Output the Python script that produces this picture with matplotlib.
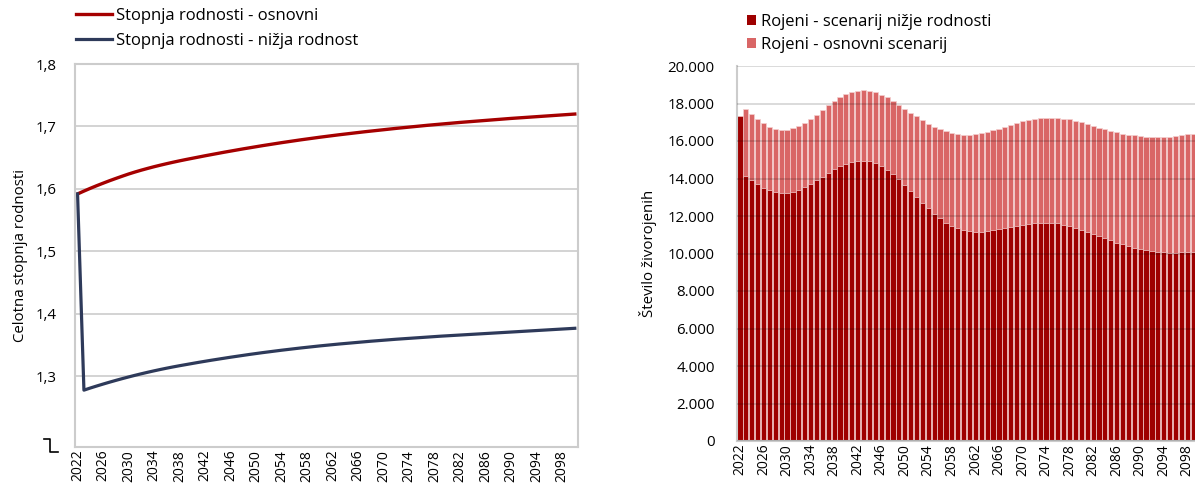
import matplotlib
matplotlib.use("Agg")
import matplotlib.pyplot as plt
from matplotlib.lines import Line2D
from matplotlib.patches import Patch
from matplotlib.ticker import FuncFormatter

plt.rcParams['font.family'] = ['Open Sans', 'DejaVu Sans']

years = list(range(2022, 2101))

# celotna stopnja rodnosti
tfr_osnovni = [
    1.5920, 1.5966, 1.6010, 1.6052, 1.6092, 1.6131, 1.6168, 1.6204, 1.6239,
    1.6271, 1.6301, 1.6329, 1.6356, 1.6381, 1.6405, 1.6428, 1.6450, 1.6471, 1.6491,
    1.6511, 1.6531, 1.6550, 1.6569, 1.6588, 1.6606, 1.6624, 1.6642, 1.6659, 1.6676,
    1.6693, 1.6709, 1.6725, 1.6741, 1.6756, 1.6771, 1.6786, 1.6800, 1.6814, 1.6828,
    1.6841, 1.6854, 1.6867, 1.6879, 1.6891, 1.6903, 1.6915, 1.6926, 1.6937, 1.6948,
    1.6959, 1.6970, 1.6980, 1.6990, 1.7000, 1.7010, 1.7020, 1.7029, 1.7038, 1.7047,
    1.7056, 1.7065, 1.7073, 1.7081, 1.7089, 1.7097, 1.7105, 1.7113, 1.7121, 1.7129,
    1.7136, 1.7143, 1.7150, 1.7157, 1.7164, 1.7171, 1.7178, 1.7185, 1.7192, 1.7199,
]
tfr_nizja = [
    1.5920,
    1.2780, 1.2814, 1.2846, 1.2877, 1.2907, 1.2936, 1.2964, 1.2991,
    1.3017, 1.3042, 1.3066, 1.3089, 1.3111, 1.3132, 1.3152, 1.3171, 1.3189, 1.3207,
    1.3225, 1.3242, 1.3259, 1.3275, 1.3291, 1.3307, 1.3322, 1.3337, 1.3352, 1.3366,
    1.3380, 1.3393, 1.3406, 1.3419, 1.3431, 1.3443, 1.3455, 1.3466, 1.3477, 1.3488,
    1.3498, 1.3508, 1.3518, 1.3527, 1.3536, 1.3545, 1.3554, 1.3563, 1.3571, 1.3579,
    1.3587, 1.3595, 1.3602, 1.3609, 1.3616, 1.3623, 1.3630, 1.3637, 1.3644, 1.3650,
    1.3656, 1.3662, 1.3668, 1.3674, 1.3680, 1.3686, 1.3692, 1.3698, 1.3704, 1.3710,
    1.3716, 1.3722, 1.3728, 1.3734, 1.3740, 1.3746, 1.3752, 1.3758, 1.3764, 1.3770,
]

# rojeni (v tisocih)
rojeni_osnovni = [
    17.35, 17.72, 17.44, 17.15, 16.94, 16.75, 16.64, 16.59, 16.59, 16.68,
    16.80, 16.96, 17.15, 17.40, 17.65, 17.90, 18.13, 18.33, 18.49, 18.60,
    18.68, 18.70, 18.67, 18.60, 18.47, 18.33, 18.13, 17.94, 17.71, 17.51,
    17.32, 17.10, 16.92, 16.76, 16.62, 16.51, 16.42, 16.37, 16.34, 16.34,
    16.35, 16.41, 16.48, 16.57, 16.66, 16.76, 16.87, 16.96, 17.05, 17.12,
    17.17, 17.23, 17.24, 17.24, 17.23, 17.19, 17.16, 17.08, 17.00, 16.91,
    16.80, 16.71, 16.62, 16.53, 16.46, 16.39, 16.34, 16.30, 16.27, 16.23,
    16.23, 16.21, 16.23, 16.23, 16.27, 16.30, 16.35, 16.39, 16.44,
]
rojeni_nizja = [
    17.35, 14.13, 13.94, 13.71, 13.51, 13.40, 13.30, 13.23, 13.24, 13.30,
    13.40, 13.56, 13.71, 13.92, 14.10, 14.29, 14.49, 14.68, 14.79, 14.90,
    14.93, 14.95, 14.92, 14.83, 14.67, 14.45, 14.22, 13.97, 13.67, 13.35,
    13.03, 12.71, 12.41, 12.12, 11.88, 11.64, 11.47, 11.36, 11.25, 11.20,
    11.15, 11.15, 11.20, 11.25, 11.31, 11.38, 11.43, 11.47, 11.52, 11.57,
    11.63, 11.63, 11.63, 11.63, 11.61, 11.54, 11.45, 11.36, 11.25, 11.16,
    11.04, 10.93, 10.83, 10.70, 10.58, 10.49, 10.40, 10.29, 10.24, 10.19,
    10.15, 10.10, 10.06, 10.04, 10.04, 10.06, 10.08, 10.08, 10.10,
]

xtick_years = list(range(2022, 2100, 4))

RED = '#a50000'
NAVY = '#2e3a5a'
DARK = '#9e0000'
LIGHT = '#d96666'
GRID = '#cccccc'
FS = 10.8
FS_LEG = 12
FS_X = 10

fig = plt.figure(figsize=(11.95, 4.83), dpi=100)

# ---- levi graf: stopnja rodnosti
ax1 = fig.add_axes([75/1195, 36/483, 503/1195, 383/483])
ax1.plot(years, tfr_osnovni, color=RED, lw=2.4, solid_joinstyle='round')
ax1.plot(years, tfr_nizja, color=NAVY, lw=2.3, solid_joinstyle='round')
ax1.set_xlim(2021.6, 2100.5)
ax1.set_ylim(1.187, 1.8)
ax1.set_yticks([1.3, 1.4, 1.5, 1.6, 1.7, 1.8])
ax1.yaxis.set_major_formatter(FuncFormatter(lambda v, p: ('%.1f' % v).replace('.', ',')))
ax1.set_xticks(xtick_years)
ax1.set_xticklabels([str(y) for y in xtick_years], rotation=90)
ax1.grid(axis='y', color=GRID, lw=1.2)
ax1.set_axisbelow(True)
for s in ax1.spines.values():
    s.set_color(GRID)
    s.set_linewidth(1.5)
ax1.tick_params(length=0, labelsize=FS, colors='black')
ax1.tick_params(axis='y', pad=13)
ax1.tick_params(axis='x', pad=2, labelsize=FS_X)
ax1.set_ylabel('Celotna stopnja rodnosti', fontsize=FS, labelpad=6)

# znak za prekinjeno os
px = lambda x, y: (x/1195, 1 - y/483)
brk = [px(44, 439), px(50, 439), px(50, 452), px(58, 452)]
fig.add_artist(Line2D([p[0] for p in brk], [p[1] for p in brk],
                      transform=fig.transFigure, color='black', lw=1.2))

leg1 = [Line2D([0], [0], color=RED, lw=2.4), Line2D([0], [0], color=NAVY, lw=2.3)]
fig.legend(leg1, ['Stopnja rodnosti - osnovni', 'Stopnja rodnosti - nižja rodnost'],
           loc='upper left', bbox_to_anchor=(76/1195, 1 - 8/483), frameon=False,
           fontsize=FS_LEG, handlelength=2.15, handletextpad=0.25, labelspacing=0.55,
           borderpad=0, borderaxespad=0)

# ---- desni graf: rojeni
ax2 = fig.add_axes([737/1195, 42/483, 465/1195, 375/483])
ax2.bar(years, [v*1000 for v in rojeni_osnovni], width=0.88, color=LIGHT,
        edgecolor='#f4d0d0', linewidth=0.5, zorder=2)
ax2.bar(years, [v*1000 for v in rojeni_nizja], width=0.88, color=DARK,
        edgecolor='#f4d0d0', linewidth=0.5, zorder=2)
ax2.set_xlim(2021.5, 2100.5)
ax2.set_ylim(0, 20000)
ax2.set_yticks(range(0, 20001, 2000))
ax2.yaxis.set_major_formatter(FuncFormatter(lambda v, p: '{:,.0f}'.format(v).replace(',', '.')))
ax2.set_xticks(xtick_years)
ax2.set_xticklabels([str(y) for y in xtick_years], rotation=90)
ax2.grid(axis='y', color='black', alpha=0.17, lw=1.2, zorder=3)
ax2.set_axisbelow(False)
for k in ['top', 'right']:
    ax2.spines[k].set_visible(False)
for k in ['left', 'bottom']:
    ax2.spines[k].set_color(GRID)
    ax2.spines[k].set_linewidth(1.5)
ax2.tick_params(length=0, labelsize=FS, colors='black')
ax2.tick_params(axis='y', pad=16)
ax2.tick_params(axis='x', pad=2, labelsize=FS_X)
ax2.set_ylabel('Število živorojenih', fontsize=FS, labelpad=8)

leg2 = [Patch(facecolor=DARK), Patch(facecolor=LIGHT)]
fig.legend(leg2, ['Rojeni - scenarij nižje rodnosti', 'Rojeni - osnovni scenarij'],
           loc='upper left', bbox_to_anchor=(747/1195, 1 - 14/483), frameon=False,
           fontsize=FS_LEG, handlelength=0.55, handleheight=0.55, handletextpad=0.3,
           labelspacing=0.42, borderpad=0, borderaxespad=0)

fig.savefig('out.png', dpi=100)
